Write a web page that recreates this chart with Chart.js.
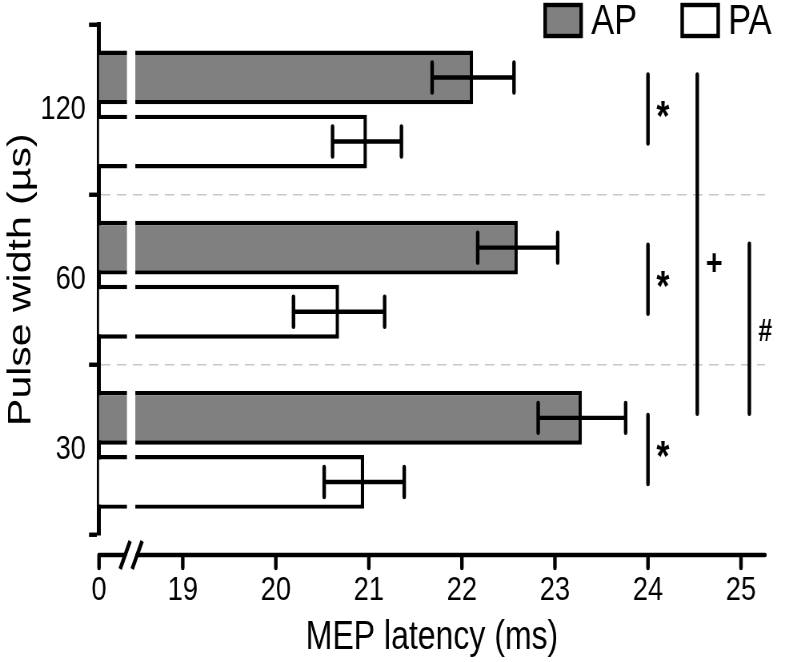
<!DOCTYPE html>
<html>
<head>
<meta charset="utf-8">
<script src="https://cdn.jsdelivr.net/npm/chart.js@4/dist/chart.umd.min.js"></script>
<style>
  html, body { margin: 0; padding: 0; background: #fff; }
  #wrap { width: 785px; height: 662px; overflow: hidden; }
  /* the figure is drawn wide and squeezed to 785px, like the narrow type of the original */
  #chart { width: 785px !important; height: 662px !important; }
</style>
</head>
<body>
<div id="wrap"><canvas id="chart" width="981" height="662" style="width:785px;height:662px"></canvas></div>
<script>
const pulseWidths = ["120", "60", "30"];
const apLatency = [22.12, 22.60, 23.29];
const apError = [0.44, 0.43, 0.47];
const paLatency = [20.98, 20.68, 20.95];
const paError = [0.37, 0.49, 0.43];
const xTickValues = [18.1, 19, 20, 21, 22, 23, 24, 25];
const xTickLabels = ["0", "19", "20", "21", "22", "23", "24", "25"];
const axisBreak = [18.4, 18.49];

const SQ = 0.8; // horizontal squeeze
const hx = (v) => v / SQ;
const FONT = "'Liberation Sans', Arial, Helvetica, sans-serif";
const errors = [apError, paError];

// white cut through the bars where the axis is broken, then error bars
const barExtras = {
  id: "barExtras",
  afterDatasetsDraw(chart) {
    const { ctx, scales: { x } } = chart;
    const b0 = x.getPixelForValue(axisBreak[0]);
    const b1 = x.getPixelForValue(axisBreak[1]);
    ctx.save();
    chart.data.datasets.forEach((ds, di) => {
      const meta = chart.getDatasetMeta(di);
      meta.data.forEach((bar, i) => {
        const h = bar.height;
        ctx.fillStyle = "#fff";
        ctx.fillRect(b0, bar.y - h / 2 - 1, b1 - b0, h + 2);

        const v = ds.data[i], e = errors[di][i];
        const xl = x.getPixelForValue(v - e), xr = x.getPixelForValue(v + e);
        ctx.strokeStyle = "#000";
        ctx.lineWidth = 4.4;
        ctx.lineCap = "round";
        ctx.beginPath();
        ctx.moveTo(xl, bar.y); ctx.lineTo(xr, bar.y);
        ctx.moveTo(xl, bar.y - 15); ctx.lineTo(xl, bar.y + 15);
        ctx.moveTo(xr, bar.y - 15); ctx.lineTo(xr, bar.y + 15);
        ctx.stroke();
      });
    });
    ctx.restore();
  },
};

// detached x axis with the // break, plus significance marks and legend
const overlay = {
  id: "overlay",
  afterDraw(chart) {
    const { ctx, chartArea, scales: { x } } = chart;
    const y = chartArea.bottom + 20;
    const b0 = x.getPixelForValue(axisBreak[0]);
    const b1 = x.getPixelForValue(axisBreak[1]);
    const bm = (b0 + b1) / 2;
    ctx.save();
    ctx.strokeStyle = "#000";
    ctx.lineWidth = 4.4;
    ctx.lineCap = "round";
    ctx.beginPath();
    ctx.moveTo(chartArea.left, y); ctx.lineTo(bm - hx(6), y);
    ctx.moveTo(bm + hx(6), y); ctx.lineTo(chartArea.right, y);
    for (const t of x.ticks) {
      const px = x.getPixelForValue(t.value);
      ctx.moveTo(px, y); ctx.lineTo(px, y + 13);
    }
    ctx.stroke();
    ctx.lineCap = "butt";
    ctx.beginPath();
    for (const dx of [-6, 6]) {
      ctx.moveTo(bm + hx(dx - 5), y + 14); ctx.lineTo(bm + hx(dx + 5), y - 14);
    }
    ctx.stroke();

    // significance brackets
    const ap = chart.getDatasetMeta(0).data;
    const pa = chart.getDatasetMeta(1).data;
    const sx = x.getPixelForValue(24);
    ctx.lineCap = "round";
    ctx.fillStyle = "#000";
    ctx.textAlign = "center";
    ctx.textBaseline = "middle";
    ap.forEach((bar, i) => {
      ctx.beginPath();
      ctx.moveTo(sx, bar.y - 3); ctx.lineTo(sx, pa[i].y + 2);
      ctx.stroke();
      ctx.font = "bold 42px " + FONT;
      ctx.fillText("*", sx + hx(15), (bar.y + pa[i].y) / 2 + 9);
    });
    const px = x.getPixelForValue(24.53);
    ctx.beginPath();
    ctx.moveTo(px, ap[0].y - 3); ctx.lineTo(px, ap[2].y - 4);
    ctx.stroke();
    ctx.font = "bold 36px " + FONT;
    ctx.fillText("+", px + hx(17), (ap[0].y + ap[2].y) / 2 + 17);
    const qx = x.getPixelForValue(25.09);
    ctx.beginPath();
    ctx.moveTo(qx, ap[1].y - 4); ctx.lineTo(qx, ap[2].y - 4);
    ctx.stroke();
    ctx.font = "bold 31px " + FONT;
    ctx.fillText("#", qx + hx(16), (ap[1].y + ap[2].y) / 2);

    // legend
    ctx.lineWidth = 4.4;
    ctx.textAlign = "left";
    ctx.font = "43px " + FONT;
    const legendX = [545, 682];
    chart.data.datasets.forEach((ds, di) => {
      const lx = hx(legendX[di]);
      ctx.fillStyle = ds.backgroundColor;
      ctx.fillRect(lx, 5, hx(36), 31);
      ctx.strokeRect(lx, 5, hx(36), 31);
      ctx.fillStyle = "#000";
      ctx.fillText(ds.label, lx + hx(46), 22);
    });
    ctx.restore();
  },
};

new Chart(document.getElementById("chart"), {
  type: "bar",
  data: {
    labels: pulseWidths,
    datasets: [
      { label: "AP", data: apLatency, backgroundColor: "#808080", borderColor: "#000", borderWidth: 4.4 },
      { label: "PA", data: paLatency, backgroundColor: "#ffffff", borderColor: "#000", borderWidth: 4.4 },
    ],
  },
  options: {
    indexAxis: "y",
    responsive: false,
    animation: false,
    events: [],
    categoryPercentage: 0.753,
    barPercentage: 0.84,
    layout: { padding: { left: 0, right: hx(20), top: 23, bottom: 0 } },
    plugins: { legend: { display: false }, tooltip: { enabled: false } },
    scales: {
      x: {
        type: "linear",
        min: 18.1,
        max: 25.258,
        afterFit(s) { s.height = 127; s.paddingLeft = 0; s.paddingRight = 0; },
        afterBuildTicks(s) { s.ticks = xTickValues.map((v) => ({ value: v })); },
        grid: { display: false, drawTicks: false },
        border: { display: false },
        ticks: {
          autoSkip: false,
          maxRotation: 0,
          padding: 35,
          color: "#000",
          font: { family: FONT, size: 34 },
          callback: (val, i) => xTickLabels[i],
        },
        title: {
          display: true,
          text: "MEP latency (ms)",
          color: "#000",
          font: { family: FONT, size: 40 },
          padding: { top: 0, bottom: 0 },
        },
      },
      y: {
        afterFit(s) { s.width = hx(99); },
        grid: {
          offset: true,
          color: (c) => (c.index === 1 || c.index === 2 ? "#c8c8c8" : "rgba(0,0,0,0)"),
          lineWidth: 1.5,
          tickColor: "#000",
          tickWidth: 4.4,
          tickLength: hx(10),
          tickBorderDash: [],
        },
        border: { display: true, color: "#000", width: 5, dash: [12, 8] },
        ticks: { color: "#000", padding: 4, font: { family: FONT, size: 34 } },
        title: {
          display: true,
          text: "Pulse width (µs)",
          color: "#000",
          font: { family: FONT, size: 41 },
          padding: { top: 2, bottom: 0 },
        },
      },
    },
  },
  plugins: [barExtras, overlay],
});
</script>
</body>
</html>
